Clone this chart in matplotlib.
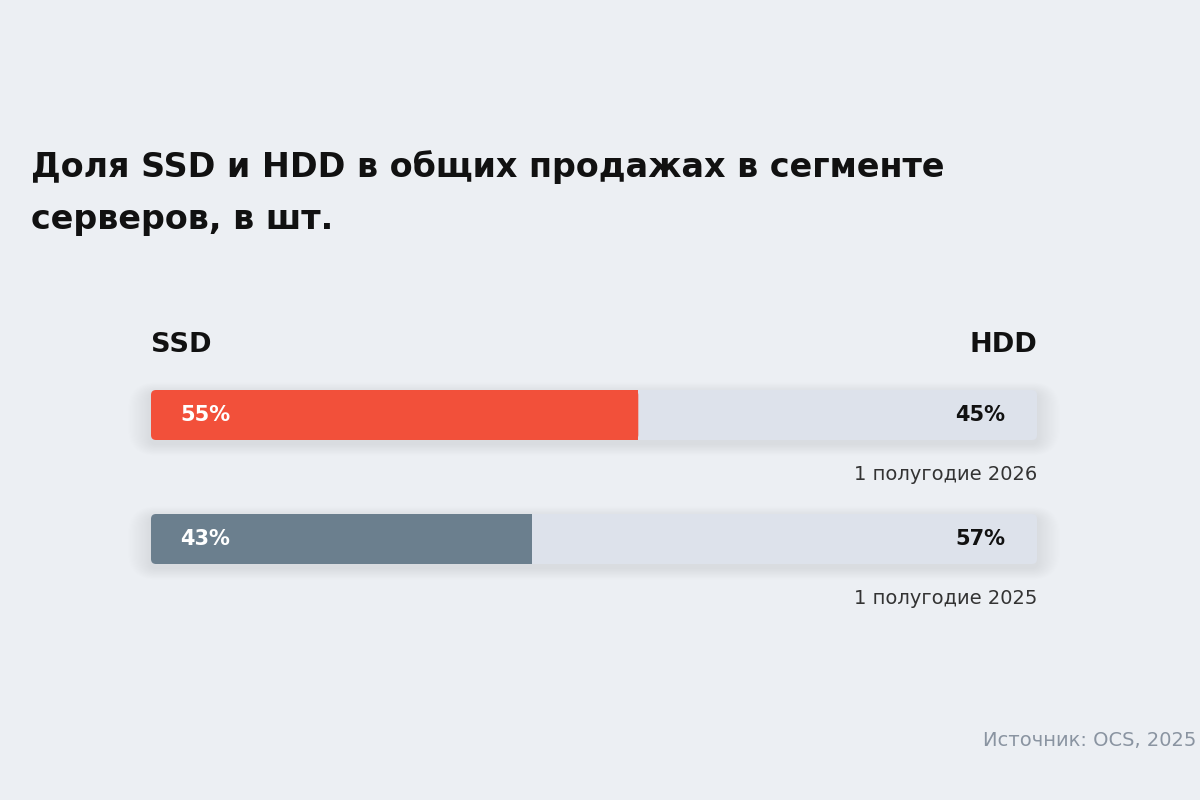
import matplotlib.pyplot as plt
from matplotlib.patches import FancyBboxPatch

# данные
periods = ["1 полугодие 2026", "1 полугодие 2025"]
ssd_share = [55, 43]
hdd_share = [45, 57]
ssd_colors = ["#F2503A", "#6B7F8E"]

TITLE = "Доля SSD и HDD в общих продажах в сегменте\nсерверов, в шт."
SOURCE = "Источник: OCS, 2025"

BG = "#ECEFF3"
TRACK = "#DDE2EB"

plt.rcParams["font.family"] = ["DejaVu Sans"]

fig = plt.figure(figsize=(12, 8), dpi=100)
fig.patch.set_facecolor(BG)

# заголовок и подпись источника (координаты фигуры)
fig.text(31 / 1200, 1 - 150 / 800, TITLE, fontsize=24, fontweight="bold",
         color="#111111", va="top", ha="left", linespacing=1.72)
fig.text(983 / 1200, 1 - 741 / 800, SOURCE, fontsize=14, color="#8A94A1",
         va="center", ha="left")

# оси для полос: x в процентах, y в пикселях сверху вниз
ax = fig.add_axes([151 / 1200, 0, (1037 - 151) / 1200, 1])
ax.set_xlim(0, 100)
ax.set_ylim(800, 0)
ax.axis("off")
ax.patch.set_alpha(0)

px_x = 100 / 886  # единиц x на пиксель
bar_h = 50
y_centers = [415, 539]
radius_px = 5

ax.text(0, 345, "SSD", fontsize=19.5, fontweight="bold", color="#111111",
        ha="left", va="center")
ax.text(100, 345, "HDD", fontsize=19.5, fontweight="bold", color="#111111",
        ha="right", va="center")


def rounded(x0, y0, w, h, color, z, alpha=1.0, r=radius_px):
    p = FancyBboxPatch((x0, y0), w, h,
                       boxstyle=f"round,pad=0,rounding_size={r * px_x}",
                       mutation_aspect=1 / px_x, clip_on=False,
                       facecolor=color, edgecolor="none", alpha=alpha, zorder=z)
    ax.add_patch(p)
    return p


for i, yc in enumerate(y_centers):
    top = yc - bar_h / 2
    # мягкая тень
    for k in range(1, 20):
        grow = k * 1.2
        rounded(-grow * px_x, top + 4 - grow / 2, 100 + 2 * grow * px_x,
                bar_h + grow, "#7A8AA2", 1, alpha=0.008, r=radius_px + grow)
    rounded(0, top, 100, bar_h, TRACK, 2)
    rounded(0, top, ssd_share[i], bar_h, ssd_colors[i], 3)
    # прямой правый край цветной части
    ax.add_patch(plt.Rectangle((ssd_share[i] - 2 * radius_px * px_x, top),
                               2 * radius_px * px_x, bar_h,
                               facecolor=ssd_colors[i], edgecolor="none", zorder=3))

    ax.text(29 * px_x, yc, f"{ssd_share[i]}%", fontsize=15, fontweight="bold",
            color="white", ha="left", va="center", zorder=4)
    ax.text(100 - 32 * px_x, yc, f"{hdd_share[i]}%", fontsize=15,
            fontweight="bold", color="#111111", ha="right", va="center", zorder=4)
    ax.text(100, yc + 60, periods[i], fontsize=14, color="#333333",
            ha="right", va="center", zorder=4)

fig.savefig("out.png", dpi=100, facecolor=BG)
